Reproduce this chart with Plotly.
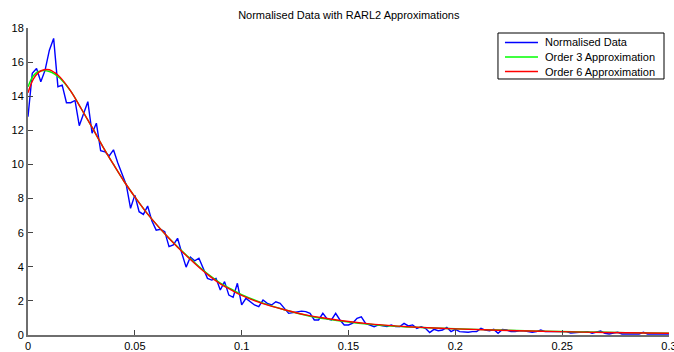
import plotly.graph_objects as go

# Sampling grid of the normalised data (step 0.002 from 0 to 0.3)
x_step = 0.002
n_points = 151
x_data = [round(i * x_step, 3) for i in range(n_points)]

normalised_data = [
    12.8, 15.34, 15.63, 14.85, 15.53, 16.7, 17.39, 14.56, 14.65, 13.62,
    13.62, 13.75, 12.27, 13.0, 13.68, 11.83, 12.42, 10.8, 10.74, 10.5,
    10.86, 10.1, 9.45, 8.8, 7.43, 8.2, 7.23, 7.07, 7.56, 6.68,
    6.15, 6.2, 6.06, 5.18, 5.28, 5.67, 4.79, 3.98, 4.57, 4.35,
    4.5, 3.9, 3.32, 3.22, 3.32, 2.64, 3.13, 2.34, 2.21, 3.03,
    1.76, 2.15, 1.95, 1.76, 1.66, 2.05, 1.86, 1.76, 1.95, 1.86,
    1.56, 1.27, 1.31, 1.37, 1.4, 1.37, 1.27, 0.88, 0.88, 1.27,
    0.94, 0.88, 1.27, 0.88, 0.59, 0.59, 0.7, 0.98, 1.07, 0.68,
    0.59, 0.49, 0.59, 0.53, 0.49, 0.59, 0.49, 0.49, 0.68, 0.53,
    0.59, 0.39, 0.49, 0.39, 0.14, 0.33, 0.25, 0.29, 0.45, 0.2,
    0.33, 0.2, 0.16, 0.16, 0.2, 0.2, 0.39, 0.29, 0.25, 0.33,
    0.1, 0.33, 0.29, 0.2, 0.2, 0.25, 0.25, 0.2, 0.16, 0.2,
    0.29, 0.2, 0.2, 0.16, 0.2, 0.18, 0.2, 0.12, 0.14, 0.12,
    0.18, 0.2, 0.1, 0.16, 0.23, 0.1, 0.06, 0.12, 0.16, 0.06,
    0.06, 0.08, 0.1, 0.06, 0.16, 0.06, 0.06, 0.05, 0.06, 0.05,
    0.06,
]

x_fit = [0.0, 0.0025, 0.005, 0.0075, 0.01, 0.0125, 0.015, 0.02, 0.025, 0.03,
         0.035, 0.04, 0.045, 0.05, 0.055, 0.06, 0.065, 0.07, 0.075, 0.08,
         0.085, 0.09, 0.095, 0.1, 0.11, 0.12, 0.13, 0.14, 0.15, 0.16,
         0.17, 0.18, 0.19, 0.2, 0.22, 0.24, 0.26, 0.28, 0.3]

order3_fit = [14.55, 15.2, 15.45, 15.5, 15.45, 15.3, 15.05, 14.3, 13.25, 12.17,
              11.05, 10.0, 9.0, 8.1, 7.25, 6.5, 5.8, 5.17, 4.58, 4.02,
              3.5, 3.05, 2.7, 2.36, 1.87, 1.48, 1.16, 0.93, 0.76, 0.63,
              0.53, 0.46, 0.41, 0.37, 0.29, 0.23, 0.18, 0.14, 0.11]

order6_fit = [14.2, 15.0, 15.4, 15.55, 15.55, 15.38, 15.12, 14.3, 13.25, 12.17,
              11.05, 10.0, 9.0, 8.1, 7.25, 6.5, 5.8, 5.15, 4.55, 3.97,
              3.45, 3.0, 2.65, 2.32, 1.84, 1.48, 1.18, 0.97, 0.79, 0.65,
              0.55, 0.47, 0.41, 0.36, 0.28, 0.22, 0.17, 0.13, 0.1]

x_ticks = [0, 0.05, 0.1, 0.15, 0.2, 0.25, 0.3]
x_tick_labels = ["0", "0.05", "0.1", "0.15", "0.2", "0.25", "0.3"]
y_ticks = [0, 2, 4, 6, 8, 10, 12, 14, 16, 18]

series_names = ["Normalised Data", "Order 3 Approximation", "Order 6 Approximation"]
series_colors = ["#0000ff", "#00ff00", "#ff0000"]

FONT = "Liberation Sans, Arial, Helvetica, sans-serif"
LW = 1.4

fig = go.Figure()
fig.add_trace(go.Scatter(x=x_data, y=normalised_data, mode="lines",
                         name=series_names[0],
                         line=dict(color=series_colors[0], width=LW)))
fig.add_trace(go.Scatter(x=x_fit, y=order3_fit, mode="lines",
                         name=series_names[1],
                         line=dict(color=series_colors[1], width=LW, shape="spline")))
fig.add_trace(go.Scatter(x=x_fit, y=order6_fit, mode="lines",
                         name=series_names[2],
                         line=dict(color=series_colors[2], width=LW, shape="spline")))

axis_common = dict(showgrid=False, zeroline=False, showline=True,
                   linecolor="#6e6e6e", linewidth=2, ticks="inside",
                   ticklen=5, tickwidth=1, tickcolor="#444444",
                   tickfont=dict(family=FONT, size=11, color="#000000"),
                   mirror=False, automargin=False, ticklabeloverflow="allow")

# Custom MATLAB-style legend box (paper coordinates)
leg_x0, leg_x1, leg_y0, leg_y1 = 0.7332, 0.9922, 0.8339, 0.9837
leg_line_x0, leg_line_x1, leg_text_x = 0.7441, 0.7956, 0.8034
leg_rows = [0.9528, 0.9055, 0.8583]

shapes = [dict(type="rect", xref="paper", yref="paper",
               x0=leg_x0, x1=leg_x1, y0=leg_y0, y1=leg_y1,
               fillcolor="white", line=dict(color="#000000", width=1),
               layer="above")]
annotations = []
for name, color, yr in zip(series_names, series_colors, leg_rows):
    shapes.append(dict(type="line", xref="paper", yref="paper",
                       x0=leg_line_x0, x1=leg_line_x1, y0=yr, y1=yr,
                       line=dict(color=color, width=LW), layer="above"))
    annotations.append(dict(xref="paper", yref="paper", x=leg_text_x, y=yr,
                            xanchor="left", yanchor="middle", showarrow=False,
                            text=name,
                            font=dict(family=FONT, size=11, color="#000000")))

fig.update_layout(
    width=674, height=352,
    margin=dict(l=28, r=5, t=28, b=17),
    paper_bgcolor="white", plot_bgcolor="white",
    title=dict(text="Normalised Data with RARL2 Approximations",
               font=dict(family=FONT, size=11, color="#000000"),
               x=0.5175, xanchor="center", y=0.957, yanchor="middle"),
    xaxis=dict(range=[0, 0.3], tickvals=x_ticks, ticktext=x_tick_labels,
               **axis_common),
    yaxis=dict(range=[0, 18], tickvals=y_ticks, **axis_common),
    shapes=shapes,
    annotations=annotations,
    showlegend=False,
)

fig.write_html("out.html")
